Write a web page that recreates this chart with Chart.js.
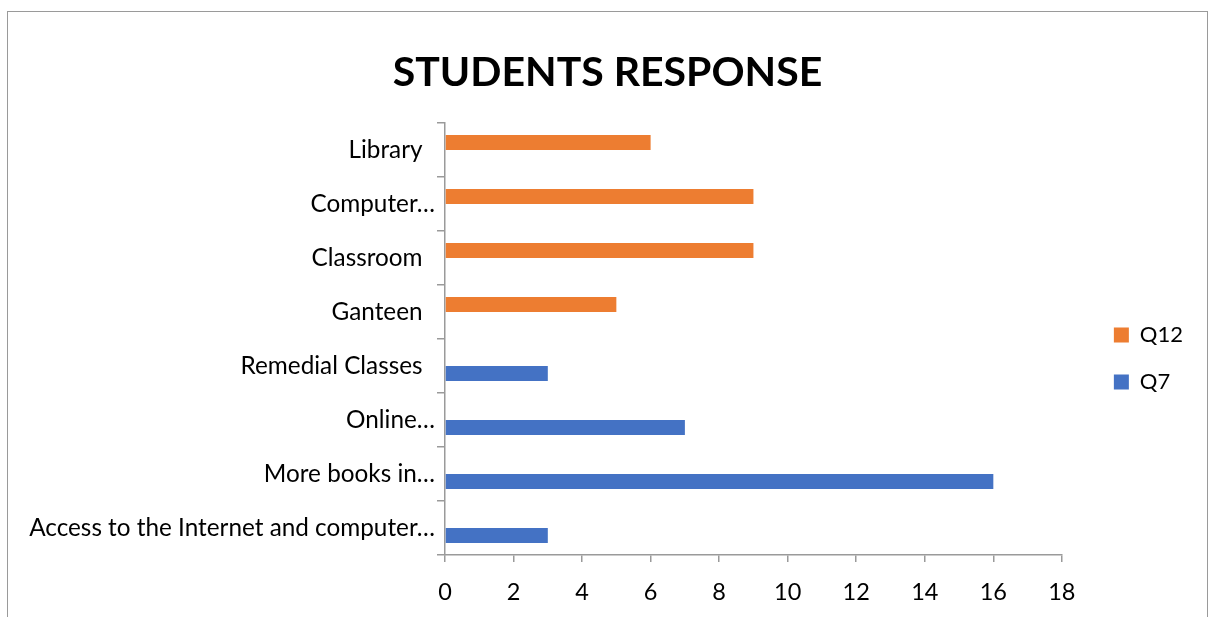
<!DOCTYPE html>
<html>
<head>
<meta charset="utf-8">
<script src="https://cdn.jsdelivr.net/npm/chart.js"></script>
<style>
  html, body { margin: 0; padding: 0; background: #fff; }
  body { width: 1210px; height: 617px; position: relative; overflow: hidden; }
  #frame { position: absolute; left: 7px; top: 11px; width: 1201px; height: 700px;
           border: 1.5px solid #9a9a9a; box-sizing: border-box; }
  #myChart { position: absolute; left: 0; top: 0; }
</style>
</head>
<body>
<div id="frame"></div>
<canvas id="myChart" width="1210" height="617"></canvas>
<script>
const categories = ['Library', 'Computer…', 'Classroom', 'Ganteen', 'Remedial Classes',
  'Online…', 'More books in…', 'Access to the Internet and computer…'];
const q12Data = [6, 9, 9, 5, null, null, null, null];
const q7Data = [null, null, null, null, 3, 7, 16, 3];
const xTicks = [0, 2, 4, 6, 8, 10, 12, 14, 16, 18];

const axisGray = '#9a9a9a';
const ctx = document.getElementById('myChart');

new Chart(ctx, {
  type: 'bar',
  data: {
    labels: categories,
    datasets: [{
      label: 'Q12',
      data: q12Data,
      backgroundColor: '#ED7D31',
      borderWidth: 0
    }, {
      label: 'Q7',
      data: q7Data,
      backgroundColor: '#4472C4',
      borderWidth: 0
    }]
  },
  options: {
    indexAxis: 'y',
    responsive: false,
    maintainAspectRatio: false,
    animation: false,
    categoryPercentage: 0.556,
    barPercentage: 1.0,
    layout: {
      padding: { left: 22, right: 17, top: 0, bottom: 0 }
    },
    plugins: {
      title: {
        display: true,
        text: 'STUDENTS RESPONSE',
        color: '#000',
        font: { family: 'Lato', size: 41, weight: 'bold', lineHeight: 1.2 },
        padding: { top: 48, bottom: 25.8 }
      },
      legend: {
        position: 'right',
        fullSize: false,
        title: { display: true, text: '', font: { size: 9, lineHeight: 1 }, padding: 15 },
        labels: {
          color: '#000',
          boxWidth: 15,
          boxHeight: 15,
          padding: 25,
          font: { family: 'Lato', size: 22 }
        }
      },
      tooltip: { enabled: false }
    },
    scales: {
      x: {
        min: 0,
        max: 18,
        afterBuildTicks: (scale) => { scale.ticks = xTicks.map(v => ({ value: v })); },
        afterFit: (scale) => { scale.height = 62; },
        border: { display: true, color: axisGray, width: 1.5 },
        grid: { drawOnChartArea: false, drawTicks: true, tickLength: 7, color: axisGray, lineWidth: 1.5 },
        ticks: { color: '#000', padding: 16, font: { family: 'Lato', size: 23.5 } }
      },
      y: {
        afterFit: (scale) => { scale.width = 423; },
        border: { display: true, color: axisGray, width: 1.5 },
        grid: { drawOnChartArea: false, drawTicks: true, tickLength: 8, color: axisGray, lineWidth: 1.5, offset: true },
        ticks: {
          color: '#000',
          padding: 2,
          autoSkip: false,
          font: { family: 'Lato', size: 24.3 },
          callback: function(value) {
            const label = this.getLabelForValue(value);
            return label.endsWith('…') ? label : label + '  ';
          }
        }
      },
      gap: {
        position: 'right',
        display: true,
        afterFit: (scale) => { scale.width = 27; },
        border: { display: false },
        grid: { display: false },
        ticks: { display: false }
      }
    }
  }
});
</script>
</body>
</html>
